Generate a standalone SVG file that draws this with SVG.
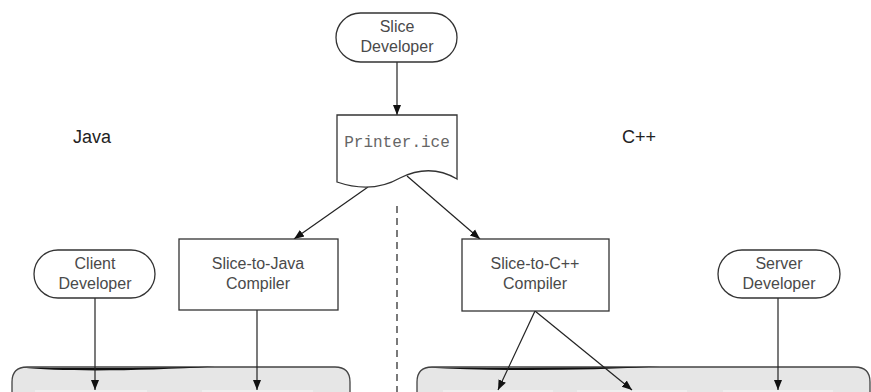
<svg xmlns="http://www.w3.org/2000/svg" width="871" height="392" viewBox="0 0 871 392">
<style>
.node{fill:#fff;stroke:#333;stroke-width:1.3}
.t{font-family:"Liberation Sans",Arial,sans-serif;font-size:16px;fill:#4a4a4a;text-anchor:middle}
.lbl{font-family:"Liberation Sans",Arial,sans-serif;font-size:18px;fill:#222}
.mono{font-family:"Liberation Mono","Courier New",monospace;font-size:16px;fill:#666;text-anchor:middle}
.edge{stroke:#222;stroke-width:1.2;fill:none;marker-end:url(#ah)}
.grp{fill:#e6e6e6;stroke:#444;stroke-width:1.3}
.inner{fill:#efefef}
</style>
<defs>
<marker id="ah" markerUnits="userSpaceOnUse" markerWidth="10" markerHeight="10" viewBox="0 0 10 10" refX="10" refY="5" orient="auto">
<path d="M0,1 L10,5 L0,9 Z" fill="#111"/>
</marker>
</defs>
<rect width="871" height="392" fill="#fff"/>
<g id="java-area">
<path class="grp" d="M12,393 V382 Q12,367 27,367 H335 Q350,367 350,382 V393"/>
<path d="M22,367.5 C60,371.8 140,371.2 215,366.5 C140,368.4 60,368.4 22,367.5 Z" fill="#111"/>
<rect class="inner" x="35" y="390" width="112" height="3"/>
<rect class="inner" x="202" y="390" width="111" height="3"/>
</g>
<g id="cpp-area">
<path class="grp" d="M417,393 V382 Q417,367 432,367 H855 Q870,367 870,382 V393"/>
<path d="M425,367.5 C500,371.3 580,370.8 660,366.5 C580,368.2 500,368.2 425,367.5 Z" fill="#111"/>
<rect class="inner" x="443" y="390" width="110" height="3"/>
<rect class="inner" x="577" y="390" width="110" height="3"/>
<rect class="inner" x="723" y="390" width="110" height="3"/>
</g>
<g id="labels">
<text class="lbl" x="73" y="143">Java</text>
<text class="lbl" x="622" y="143">C++</text>
</g>
<g id="connectors">
<line x1="397" y1="206" x2="397" y2="392" stroke="#222" stroke-width="1.2" stroke-dasharray="7,5"/>
<line class="edge" x1="397" y1="62" x2="397" y2="115"/>
<line class="edge" x1="368" y1="187" x2="294" y2="239"/>
<line class="edge" x1="407" y1="176" x2="480" y2="239"/>
<line class="edge" x1="95" y1="298" x2="95" y2="390"/>
<line class="edge" x1="257" y1="310" x2="257" y2="390"/>
<line class="edge" x1="535" y1="311" x2="498" y2="390"/>
<line class="edge" x1="535" y1="311" x2="632" y2="390"/>
<line class="edge" x1="778" y1="298" x2="778" y2="390"/>
</g>
<g id="slice-developer">
<rect class="node" x="336" y="13" width="121" height="49" rx="24.5"/>
<text class="t" x="397" y="32">Slice</text>
<text class="t" x="397" y="52">Developer</text>
</g>
<g id="printer-ice">
<path class="node" d="M337,115 H457 V179 Q430,163 400,178 Q372,194 337,182 Z"/>
<text class="mono" x="397" y="147">Printer.ice</text>
</g>
<g id="client-developer">
<rect class="node" x="34" y="250" width="121" height="48" rx="24"/>
<text class="t" x="95" y="269">Client</text>
<text class="t" x="95" y="289">Developer</text>
</g>
<g id="slice-to-java">
<rect class="node" x="179" y="239" width="159" height="71"/>
<text class="t" x="258" y="269">Slice-to-Java</text>
<text class="t" x="258" y="289">Compiler</text>
</g>
<g id="slice-to-cpp">
<rect class="node" x="462" y="239" width="147" height="72"/>
<text class="t" x="535" y="269">Slice-to-C++</text>
<text class="t" x="535" y="289">Compiler</text>
</g>
<g id="server-developer">
<rect class="node" x="718" y="250" width="122" height="48" rx="24"/>
<text class="t" x="779" y="269">Server</text>
<text class="t" x="779" y="289">Developer</text>
</g>
</svg>
